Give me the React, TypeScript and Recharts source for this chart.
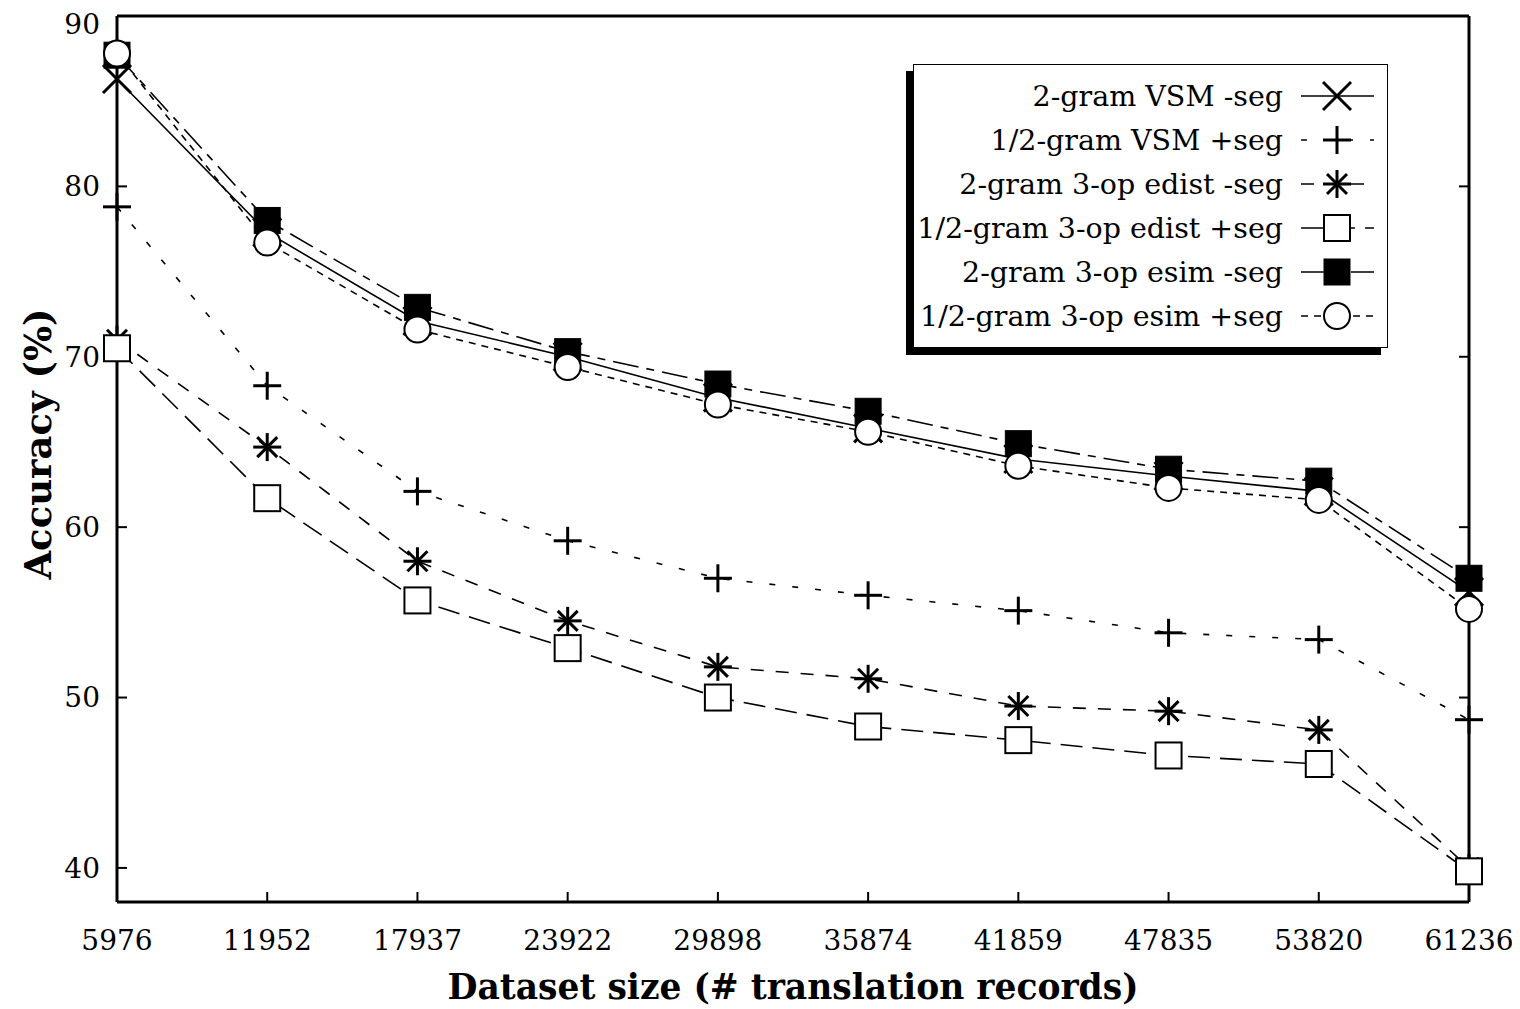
import React from 'react';
import { LineChart, Line, XAxis, YAxis, ReferenceLine } from 'recharts';

const sizes = ['5976', '11952', '17937', '23922', '29898', '35874', '41859', '47835', '53820', '61236'];
const vsm2 = [86.3, 77.3, 72.1, 70.0, 67.6, 65.8, 64.0, 63.0, 62.1, 56.2];
const vsm12 = [78.8, 68.3, 62.1, 59.2, 57.0, 56.0, 55.1, 53.8, 53.4, 48.7];
const edist2 = [71.0, 64.7, 58.0, 54.5, 51.8, 51.1, 49.5, 49.2, 48.1, 40.0];
const edist12 = [70.5, 61.7, 55.7, 52.9, 50.0, 48.3, 47.5, 46.6, 46.1, 39.8];
const esim2 = [87.7, 78.0, 72.9, 70.3, 68.4, 66.8, 64.9, 63.4, 62.7, 57.0];
const esim12 = [87.8, 76.7, 71.6, 69.4, 67.2, 65.6, 63.6, 62.3, 61.6, 55.2];
const yTicks = [40, 50, 60, 70, 80, 90];

const data = sizes.map((s, i) => ({
  size: s,
  vsm2: vsm2[i],
  vsm12: vsm12[i],
  edist2: edist2[i],
  edist12: edist12[i],
  esim2: esim2[i],
  esim12: esim12[i],
}));

const series = [
  { key: 'vsm2', name: '2-gram VSM -seg', shape: 'x', dash: undefined },
  { key: 'vsm12', name: '1/2-gram VSM +seg', shape: 'plus', dash: '6 17' },
  { key: 'edist2', name: '2-gram 3-op edist -seg', shape: 'star', dash: '13 12' },
  { key: 'edist12', name: '1/2-gram 3-op edist +seg', shape: 'square', dash: '22 10' },
  { key: 'esim2', name: '2-gram 3-op esim -seg', shape: 'filled', dash: '26 8 8 8' },
  { key: 'esim12', name: '1/2-gram 3-op esim +seg', shape: 'circle', dash: '7 6' },
];

const FONT = '"DejaVu Serif", serif';

function Marker({ shape, cx, cy }: { shape: string; cx: number; cy: number }) {
  const k = 14;
  const s = 13;
  if (shape === 'x') {
    return (
      <g stroke="#000" strokeWidth={3}>
        <line x1={cx - k} y1={cy - k} x2={cx + k} y2={cy + k} />
        <line x1={cx - k} y1={cy + k} x2={cx + k} y2={cy - k} />
      </g>
    );
  }
  if (shape === 'plus') {
    return (
      <g stroke="#000" strokeWidth={3}>
        <line x1={cx - k} y1={cy} x2={cx + k} y2={cy} />
        <line x1={cx} y1={cy - k} x2={cx} y2={cy + k} />
      </g>
    );
  }
  if (shape === 'star') {
    const d = 10;
    return (
      <g stroke="#000" strokeWidth={3}>
        <line x1={cx - k} y1={cy} x2={cx + k} y2={cy} />
        <line x1={cx} y1={cy - k} x2={cx} y2={cy + k} />
        <line x1={cx - d} y1={cy - d} x2={cx + d} y2={cy + d} />
        <line x1={cx - d} y1={cy + d} x2={cx + d} y2={cy - d} />
      </g>
    );
  }
  if (shape === 'square') {
    return <rect x={cx - s} y={cy - s} width={2 * s} height={2 * s} fill="#fff" stroke="#000" strokeWidth={2} />;
  }
  if (shape === 'filled') {
    return <rect x={cx - s} y={cy - s} width={2 * s} height={2 * s} fill="#000" stroke="#000" strokeWidth={1} />;
  }
  return <circle cx={cx} cy={cy} r={s} fill="#fff" stroke="#000" strokeWidth={2} />;
}

function LegendBox() {
  return (
    <div style={{ position: 'absolute', left: 898, top: 56, width: 482, height: 291, fontFamily: FONT }}>
      <div style={{ position: 'absolute', left: 0, top: 7, width: 475, height: 284, background: '#000' }} />
      <div
        style={{
          position: 'absolute',
          left: 7,
          top: 0,
          width: 475,
          height: 284,
          background: '#fff',
          border: '1.5px solid #000',
          paddingTop: 9,
          boxSizing: 'border-box',
        }}
      >
        {series.map((s) => (
          <div key={s.key} style={{ display: 'flex', alignItems: 'center', height: 44 }}>
            <span style={{ width: 369, textAlign: 'right', fontSize: 28.5, whiteSpace: 'nowrap' }}>{s.name}</span>
            <svg width={90} height={44} style={{ marginLeft: 11 }}>
              <line x1={7} y1={22} x2={80} y2={22} stroke="#000" strokeWidth={1.6} strokeDasharray={s.dash} />
              <Marker shape={s.shape} cx={43} cy={22} />
            </svg>
          </div>
        ))}
      </div>
    </div>
  );
}

export default function App() {
  return (
    <div style={{ position: 'relative', width: 1512, height: 1001, fontFamily: FONT }}>
      <LineChart width={1512} height={1001} data={data} margin={{ top: 8, right: 50, bottom: 3, left: 9 }}>
        <XAxis
          dataKey="size"
          padding={{ left: 0, right: 0 }}
          height={104}
          stroke="#000"
          axisLine={{ stroke: '#000', strokeWidth: 3 }}
          tickLine={{ stroke: '#000', strokeWidth: 2 }}
          tickSize={-10}
          tickMargin={38}
          tick={{ fill: '#000', fontSize: 28, fontFamily: FONT }}
          interval={0}
          label={{
            value: 'Dataset size (# translation records)',
            position: 'insideBottom',
            offset: 7,
            style: { fontFamily: FONT, fontSize: 34.5, fontWeight: 'bold', fill: '#000' },
          }}
        />
        <YAxis
          domain={[38, 90]}
          ticks={yTicks}
          width={100}
          allowDataOverflow
          stroke="#000"
          axisLine={{ stroke: '#000', strokeWidth: 3 }}
          tickLine={{ stroke: '#000', strokeWidth: 2 }}
          tickSize={-10}
          tickMargin={27}
          tick={{ fill: '#000', fontSize: 28, fontFamily: FONT }}
          label={{
            value: 'Accuracy (%)',
            angle: -90,
            position: 'insideLeft',
            offset: 21,
            dy: -15,
            style: { textAnchor: 'middle', fontFamily: FONT, fontSize: 37, fontWeight: 'bold', fill: '#000' },
          }}
        />
        <YAxis
          yAxisId="r"
          orientation="right"
          domain={[38, 90]}
          ticks={yTicks}
          width={1}
          allowDataOverflow
          axisLine={{ stroke: '#000', strokeWidth: 3 }}
          tickLine={{ stroke: '#000', strokeWidth: 2 }}
          tickSize={-10}
          tick={() => <g />}
        />
        <ReferenceLine y={90} stroke="#000" strokeWidth={3} />
        {series.map((s) => (
          <Line
            key={s.key}
            dataKey={s.key}
            name={s.name}
            type="linear"
            stroke="#000"
            strokeWidth={1.6}
            strokeDasharray={s.dash}
            isAnimationActive={false}
            dot={(p: any) => <Marker key={`${s.key}-${p.index}`} shape={s.shape} cx={p.cx} cy={p.cy} />}
            activeDot={false}
          />
        ))}
      </LineChart>
      <LegendBox />
    </div>
  );
}
